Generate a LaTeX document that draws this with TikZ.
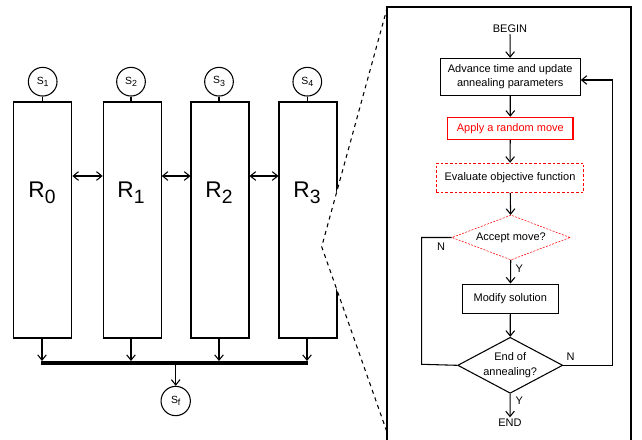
\documentclass[tikz,border=0pt]{standalone}
\usepackage{fontspec}
\usepackage{graphicx}
\setmainfont{Liberation Sans}
\usetikzlibrary{arrows.meta,shapes.geometric}
\newcommand\lowsub[1]{\raisebox{-0.25em}{\scalebox{0.85}{#1}}}
\tikzset{
  ln/.style={line width=0.8pt,black},
  arr/.style={ln,-{Straight Barb[length=4pt,width=6.5pt]}},
  darr/.style={ln,{Straight Barb[length=4pt,width=6.5pt]}-{Straight Barb[length=4pt,width=6.5pt]}},
  rbox/.style={draw,line width=0.8pt,minimum width=43.5pt,minimum height=177pt,inner sep=0pt},
  scirc/.style={draw,circle,line width=0.8pt,minimum size=21.5pt,inner sep=0pt,font=\fontsize{7.8pt}{8pt}\selectfont},
  rlab/.style={font=\fontsize{17pt}{19pt}\selectfont,inner sep=0pt},
  fbox/.style={draw,line width=0.8pt,inner sep=0pt,align=center,font=\fontsize{8.25pt}{11pt}\selectfont},
  ftxt/.style={inner sep=1pt,font=\fontsize{8.25pt}{10pt}\selectfont},
  fdia/.style={draw,diamond,inner sep=0pt,align=center,font=\fontsize{8.25pt}{11pt}\selectfont},
  cone/.style={line width=0.8pt,dash pattern=on 3pt off 3pt},
  frame/.style={line width=1.3pt}
}
\begin{document}
\begin{tikzpicture}[x=0.75pt,y=-0.75pt]
\useasboundingbox (0,0) rectangle (642,439);
% left part
\node[rbox] (r0) at (42.8,220) {};
\node[rbox] (r1) at (132.2,220) {};
\node[rbox] (r2) at (220,220) {};
\node[rbox] (r3) at (308,220) {};
\node[rlab] (l0) at (42,193) {R\lowsub{0}};
\node[rlab] (l1) at (131,193) {R\lowsub{1}};
\node[rlab] (l2) at (219,193) {R\lowsub{2}};
\node[rlab] (l3) at (307,193) {R\lowsub{3}};
\node[scirc] (s1) at (42.7,81.7) {S\lowsub{1}};
\node[scirc] (s2) at (131,81.7) {S\lowsub{2}};
\node[scirc] (s3) at (219,81.7) {S\lowsub{3}};
\node[scirc] (s4) at (307.3,81.7) {S\lowsub{4}};
\foreach \i/\j in {1/0,2/1,3/2,4/3} \draw[ln] (s\i.south) -- (s\i.south |- r\j.north);
\draw[darr] (r0.east |- 0,176) -- (r1.west |- 0,176);
\draw[darr] (r1.east |- 0,176) -- (r2.west |- 0,176);
\draw[darr] (r2.east |- 0,176) -- (r3.west |- 0,176);
\coordinate (bl) at (41,362.5);
\coordinate (br) at (308,362.5);
\draw[line width=3pt] (bl) -- (br);
\foreach \x/\j in {42/0,131/1,219/2,307/3} \draw[arr] (\x,338) -- (\x,361);
\node[scirc,minimum size=22pt] (sf) at (175.7,401) {S\lowsub{f}};
\draw[arr] (175.7,363) -- (sf.north);
% cone
\coordinate (ct) at (387.3,7.3);
\coordinate (ca) at (321.7,246.7);
\coordinate (cb) at (387.3,433);
\fill[white] (ct) -- (ca) -- (cb) -- cycle;
\draw[cone] (ct) -- (ca) -- (cb);
% frame
\draw[frame] (387.3,441) -- (387.3,7.3) -- (630.7,7.3) -- (630.7,441);
% flowchart
\node[ftxt] (begin) at (510,29) {BEGIN};
\node[fbox,minimum width=105pt,minimum height=27.5pt] (adv) at (510.2,76.7) {Advance time and update\\annealing parameters};
\node[fbox,draw=red,text=red,minimum width=94pt,minimum height=16.5pt] (apply) at (510.3,128.3) {Apply a random move};
\node[fbox,draw=red,dash pattern=on 2pt off 1.5pt,minimum width=110.8pt,minimum height=21.75pt] (eval) at (510,177.8) {Evaluate objective function};
\node[fdia,draw=red,dash pattern=on 1.5pt off 1pt,shape aspect=2.63,minimum width=88.7pt,minimum height=33.7pt] (acc) at (511,237.5) {Accept move?};
\node[fbox,minimum width=72pt,minimum height=22pt] (mod) at (510.3,298.7) {Modify solution};
\node[fdia,line width=0.8pt,shape aspect=1.875,minimum width=78.8pt,minimum height=42pt] (eoa) at (510.2,365.3) {End of\\annealing?};
\node[ftxt] (end) at (510,422.7) {END};
\draw[arr] (begin) -- (adv);
\draw[arr] (adv) -- (apply);
\draw[arr] (apply) -- (eval);
\draw[arr] (eval) -- (acc);
\draw[arr] (acc) -- (mod);
\draw[arr] (mod) -- (eoa);
\draw[arr] (eoa) -- (end);
\coordinate (nl) at (421.7,364.3);
\draw[ln] (acc.west) -| (nl) -- (eoa.west);
\coordinate (nr) at (612.3,80);
\draw[arr] (eoa.east) -| (nr) -- (nr -| adv.east);
\node[ftxt] (yl1) at (519.3,269) {Y};
\node[ftxt] (yl2) at (519.3,401) {Y};
\node[ftxt] (nl1) at (441,246.7) {N};
\node[ftxt] (nl2) at (570.7,356.7) {N};
\end{tikzpicture}
\end{document}
